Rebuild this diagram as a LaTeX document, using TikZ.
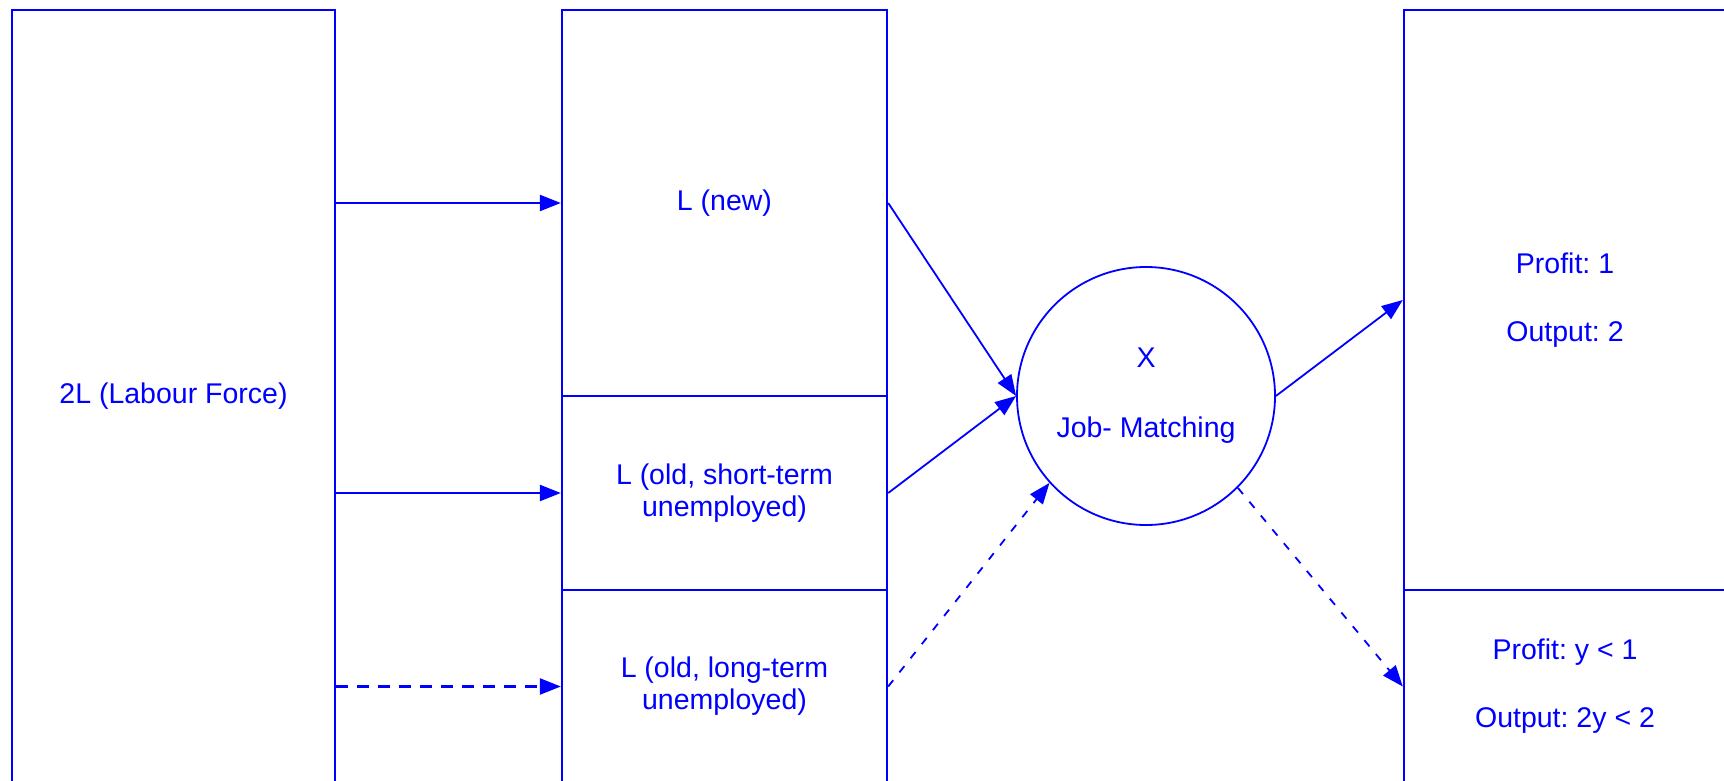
\documentclass[tikz,border=0pt]{standalone}
\usepackage{fontspec}
\setmainfont{Liberation Sans}
\usetikzlibrary{arrows.meta}
\definecolor{lineblue}{RGB}{0,0,255}
\frenchspacing
\begin{document}
\begin{tikzpicture}[x=1pt,y=-1pt,
  every node/.style={text=lineblue,font=\fontsize{28.5}{32}\selectfont},
  box/.style={draw=lineblue,line width=2.4pt,rectangle,inner sep=0pt,align=center},
  hub/.style={draw=lineblue,line width=1.8pt,circle,inner sep=0pt,minimum size=258pt,align=center},
  flow/.style={draw=lineblue,line width=2.4pt,-{Triangle[length=21pt,width=16pt]}},
  link/.style={draw=lineblue,line width=1.8pt,-{Triangle[length=21pt,width=16pt]}},
  hdash/.style={dash pattern=on 12pt off 9pt},
  ddash/.style={dash pattern=on 8pt off 10pt}]
\useasboundingbox (0,0) rectangle (1724,781);
\clip (0,0) rectangle (1724,781);

% labour force
\node[box,minimum width=323pt,minimum height=773pt] (lf) at (173.5,396.5) {2L (Labour Force)};

% cohorts
\node[box,minimum width=325pt,minimum height=386pt] (m1) at (724.5,203) {L (new)};
\node[box,minimum width=325pt,minimum height=194pt] (m2) at (724.5,493) {L (old, short-term\\unemployed)};
\node[box,minimum width=325pt,minimum height=193pt] (m3) at (724.5,686.5) {L (old, long-term\\unemployed)};

% matching
\node[hub] (c) at (1146,396) {X\\[38pt]Job- Matching};

% outcomes
\node[box,minimum width=322pt,minimum height=580pt] (r1) at (1565,300) {Profit: 1\\[36pt]Output: 2};
\node[box,minimum width=322pt,minimum height=193pt] (r2) at (1565,686.5) {Profit: y < 1\\[36pt]Output: 2y < 2};

% labour force into cohorts
\draw[flow] (m1.west -| lf.east) -- (m1.west);
\draw[flow] (m2.west -| lf.east) -- (m2.west);
\draw[flow,hdash] (m3.west -| lf.east) -- (m3.west);

% cohorts into matching
\draw[link] (m1.east) -- (c.west);
\draw[link] (m2.east) -- (c.west);
\draw[link,ddash] (m3.east) -- (c.222);

% matching into outcomes
\draw[link] (c.east) -- (r1.west);
\draw[link,ddash] (c.315) -- (r2.west);
\end{tikzpicture}
\end{document}
